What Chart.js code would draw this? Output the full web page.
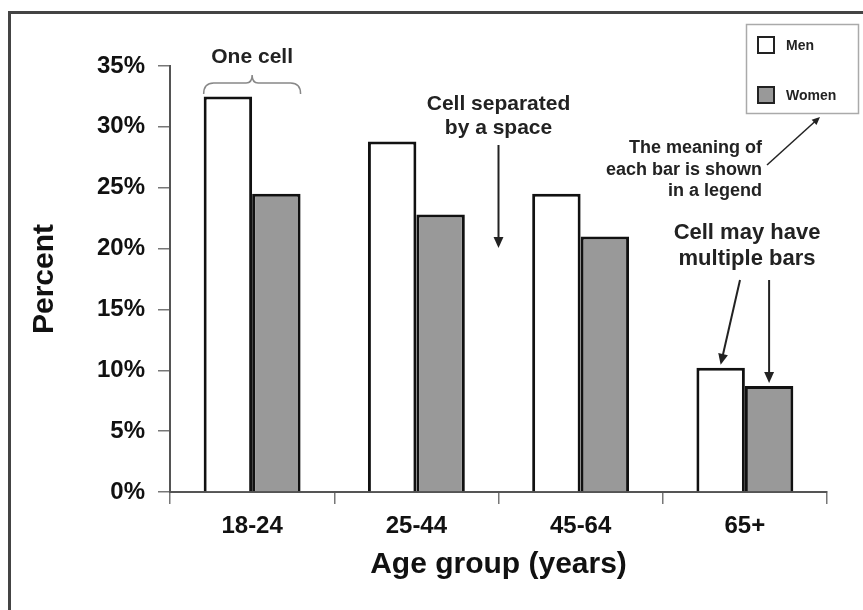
<!DOCTYPE html>
<html>
<head>
<meta charset="utf-8">
<title>Percent by age group</title>
<script src="https://cdn.jsdelivr.net/npm/chart.js@4/dist/chart.umd.min.js"></script>
<style>
  html, body { margin: 0; padding: 0; background: #fff; }
  #wrap { width: 863px; height: 610px; }
</style>
</head>
<body>
<div id="wrap"><canvas id="ageChart" width="863" height="610"></canvas></div>
<script>
// Data
const ageGroups = ['18-24', '25-44', '45-64', '65+'];
const menPercent = [32.5, 28.8, 24.5, 10.2];
const womenPercent = [24.5, 22.8, 21.0, 8.7];
const yTicks = [0, 5, 10, 15, 20, 25, 30, 35];

const FONT = '"Liberation Sans", Arial, sans-serif';

function arrow(ctx, x1, y1, x2, y2, width, head) {
  const ang = Math.atan2(y2 - y1, x2 - x1);
  ctx.save();
  ctx.strokeStyle = '#222';
  ctx.fillStyle = '#222';
  ctx.lineWidth = width;
  ctx.beginPath();
  ctx.moveTo(x1, y1);
  ctx.lineTo(x2 - Math.cos(ang) * head * 0.8, y2 - Math.sin(ang) * head * 0.8);
  ctx.stroke();
  ctx.beginPath();
  ctx.moveTo(x2, y2);
  ctx.lineTo(x2 - head * Math.cos(ang) + head * 0.45 * Math.sin(ang), y2 - head * Math.sin(ang) - head * 0.45 * Math.cos(ang));
  ctx.lineTo(x2 - head * Math.cos(ang) - head * 0.45 * Math.sin(ang), y2 - head * Math.sin(ang) + head * 0.45 * Math.cos(ang));
  ctx.closePath();
  ctx.fill();
  ctx.restore();
}

// frame, legend and the explanatory notes
const notesPlugin = {
  id: 'notes',
  beforeDraw(chart) {
    const ctx = chart.ctx;
    ctx.save();
    ctx.fillStyle = '#fff';
    ctx.fillRect(0, 0, chart.width, chart.height);
    ctx.strokeStyle = '#444';
    ctx.lineWidth = 3;
    ctx.beginPath();
    ctx.moveTo(9.5, chart.height);
    ctx.lineTo(9.5, 12.5);
    ctx.lineTo(chart.width, 12.5);
    ctx.stroke();
    ctx.restore();
  },
  afterDraw(chart) {
    const ctx = chart.ctx;
    const men = chart.getDatasetMeta(0).data;
    const women = chart.getDatasetMeta(1).data;
    ctx.save();
    ctx.fillStyle = '#222';
    ctx.textBaseline = 'middle';

    // "One cell" with brace over first group
    ctx.textAlign = 'center';
    ctx.font = 'bold 21px ' + FONT;
    const left = men[0].x - men[0].width / 2;
    const right = women[0].x + women[0].width / 2;
    const mid = (left + right) / 2;
    ctx.fillText('One cell', mid, 57);
    ctx.strokeStyle = '#888';
    ctx.lineWidth = 1.5;
    ctx.beginPath();
    ctx.moveTo(left, 94);
    ctx.quadraticCurveTo(left, 83, left + 10, 83);
    ctx.lineTo(mid - 6, 83);
    ctx.quadraticCurveTo(mid, 83, mid, 75);
    ctx.quadraticCurveTo(mid, 83, mid + 6, 83);
    ctx.lineTo(right - 10, 83);
    ctx.quadraticCurveTo(right, 83, right, 94);
    ctx.stroke();

    // gap between cells
    const gapX = (women[1].x + women[1].width / 2 + men[2].x - men[2].width / 2) / 2;
    ctx.fillText('Cell separated', gapX, 104);
    ctx.fillText('by a space', gapX, 128);
    arrow(ctx, gapX, 145, gapX, 248, 2, 11);

    // multiple bars
    ctx.font = 'bold 22px ' + FONT;
    ctx.fillText('Cell may have', 747, 233);
    ctx.fillText('multiple bars', 747, 259);
    arrow(ctx, 740, 280, men[3].x, men[3].y - 3, 2, 11);
    arrow(ctx, women[3].x, 280, women[3].x, women[3].y - 3, 2, 11);

    // legend note
    ctx.textAlign = 'right';
    ctx.font = 'bold 18px ' + FONT;
    ctx.fillText('The meaning of', 762, 148);
    ctx.fillText('each bar is shown', 762, 170);
    ctx.fillText('in a legend', 762, 191);
    arrow(ctx, 767, 165, 820, 117, 1.5, 8);

    // legend box
    ctx.strokeStyle = '#aaa';
    ctx.lineWidth = 1.5;
    ctx.strokeRect(746.5, 24.5, 112, 89);
    ctx.textAlign = 'left';
    ctx.font = 'bold 14px ' + FONT;
    const rows = [37, 87];
    chart.data.datasets.forEach((ds, i) => {
      ctx.fillStyle = ds.backgroundColor;
      ctx.fillRect(758, rows[i], 16, 16);
      ctx.strokeStyle = '#222';
      ctx.lineWidth = 2;
      ctx.strokeRect(758, rows[i], 16, 16);
      ctx.fillStyle = '#222';
      ctx.fillText(ds.label, 786, rows[i] + 9);
    });
    ctx.restore();
  }
};

new Chart(document.getElementById('ageChart'), {
  type: 'bar',
  data: {
    labels: ageGroups,
    datasets: [
      {
        label: 'Men',
        data: menPercent,
        backgroundColor: '#ffffff',
        borderColor: '#111',
        borderWidth: 3,
        categoryPercentage: 0.59,
        barPercentage: 1.0
      },
      {
        label: 'Women',
        data: womenPercent,
        backgroundColor: '#999999',
        borderColor: '#111',
        borderWidth: 3,
        categoryPercentage: 0.59,
        barPercentage: 1.0
      }
    ]
  },
  options: {
    responsive: false,
    animation: false,
    layout: { padding: { top: 66, right: 36, left: 0, bottom: 0 } },
    plugins: {
      legend: { display: false },
      tooltip: { enabled: false }
    },
    scales: {
      x: {
        grid: { display: true, drawOnChartArea: false, offset: true, tickLength: 12, color: '#777', lineWidth: 1.5 },
        border: { color: '#555', width: 2 },
        ticks: { color: '#111', padding: 8, font: { family: FONT, size: 24, weight: 'bold' } },
        title: {
          display: true,
          text: 'Age group (years)',
          color: '#111',
          padding: { top: 0, bottom: 27 },
          font: { family: FONT, size: 30, weight: 'bold' }
        },
        afterFit(scale) { scale.height = 118; }
      },
      y: {
        min: 0,
        max: 35,
        afterBuildTicks(scale) { scale.ticks = yTicks.map(v => ({ value: v })); },
        grid: { display: true, drawOnChartArea: false, tickLength: 12, color: '#777', lineWidth: 1.5 },
        border: { color: '#555', width: 2 },
        ticks: {
          color: '#111',
          padding: 13,
          font: { family: FONT, size: 24, weight: 'bold' },
          callback: v => v + '%'
        },
        title: {
          display: true,
          text: 'Percent',
          color: '#111',
          padding: { top: 27, bottom: 0 },
          font: { family: FONT, size: 30, weight: 'bold' }
        },
        afterFit(scale) { scale.width = 170; }
      }
    }
  },
  plugins: [notesPlugin]
});
</script>
</body>
</html>
